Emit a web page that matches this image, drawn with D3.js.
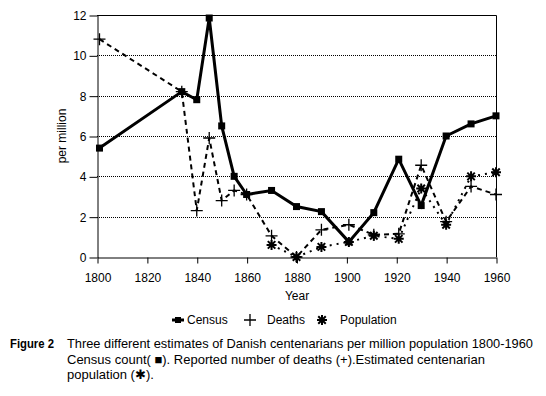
<!DOCTYPE html>
<html>
<head>
<meta charset="utf-8">
<script src="https://cdn.jsdelivr.net/npm/d3@7"></script>
<style>
  body { margin: 0; background: #fff; }
  text { font-family: "Liberation Sans", Arial, sans-serif; font-size: 12px; fill: #000; }
</style>
</head>
<body>
<svg id="chart" width="546" height="396"></svg>
<script>
// values
var censusYears  = [1801, 1834, 1840, 1845, 1850, 1855, 1860, 1870, 1880, 1890, 1901, 1911, 1921, 1930, 1940, 1950, 1960];
var censusValues = [5.4, 8.2, 7.8, 11.85, 6.5, 4.0, 3.1, 3.3, 2.5, 2.25, 0.75, 2.2, 4.85, 2.55, 6.0, 6.6, 7.0];
var deathsYears  = [1801, 1834, 1840, 1845, 1850, 1855, 1860, 1870, 1880, 1890, 1901, 1911, 1921, 1930, 1940, 1950, 1960];
var deathsValues = [10.8, 8.2, 2.3, 5.9, 2.8, 3.3, 3.1, 1.05, 0, 1.35, 1.6, 1.1, 1.15, 4.55, 1.75, 3.5, 3.1];
var popYears     = [1870, 1880, 1890, 1901, 1911, 1921, 1930, 1940, 1950, 1960];
var popValues    = [0.6, 0, 0.5, 0.75, 1.05, 0.9, 3.4, 1.6, 4.0, 4.2];
var xTicks = [1800, 1820, 1840, 1860, 1880, 1900, 1920, 1940, 1960];
var yTicks = [0, 2, 4, 6, 8, 10, 12];

var svg = d3.select("#chart");

var x = d3.scaleLinear().domain([1800, 1960]).range([97, 496]);
var y = d3.scaleLinear().domain([0, 12]).range([257, 15]);

function pts(years, vals) {
    return years.map(function(d, i) { return [d, vals[i]]; });
}
var line = d3.line()
    .x(function(d) { return x(d[0]); })
    .y(function(d) { return y(d[1]); });

// dotted gridlines
svg.append("g").selectAll("line")
    .data(yTicks.filter(function(d) { return d > 0 && d < 12; }))
    .enter().append("line")
    .attr("x1", x(1800)).attr("x2", x(1960))
    .attr("y1", function(d) { return Math.round(y(d)) + 0.5; })
    .attr("y2", function(d) { return Math.round(y(d)) + 0.5; })
    .attr("stroke", "#000")
    .attr("stroke-dasharray", "1,1");

// frame top / right
svg.append("path")
    .attr("d", "M" + x(1800) + "," + (Math.round(y(12)) + 0.5) + "H" + (Math.round(x(1960)) + 0.5) + "V" + y(0))
    .attr("fill", "none").attr("stroke", "#000");

// axes
var yAxis = svg.append("g")
    .attr("transform", "translate(" + (Math.round(x(1800)) + 0.5) + ",0.5)")
    .call(d3.axisLeft(y).tickValues(yTicks).tickSize(8).tickSizeOuter(0).tickPadding(3));
var xAxis = svg.append("g")
    .attr("transform", "translate(0.5," + (Math.round(y(0)) + 0.5) + ")")
    .call(d3.axisBottom(x).tickValues(xTicks).tickFormat(d3.format("d")).tickSize(6).tickSizeOuter(0).tickPadding(10));
svg.selectAll(".domain").attr("stroke", "#000");
svg.selectAll(".tick line").attr("stroke", "#000");
svg.selectAll(".tick text").style("font-size", "12px").attr("fill", "#000");

svg.append("text").attr("x", 297).attr("y", 300).attr("text-anchor", "middle").text("Year");
svg.append("text").attr("transform", "translate(66,136) rotate(-90)")
    .attr("text-anchor", "middle").text("per million");

// marker helpers
function plus(g, cx, cy, s) {
    g.append("path")
        .attr("d", "M" + (cx - s) + "," + cy + "H" + (cx + s) + "M" + cx + "," + (cy - s) + "V" + (cy + s))
        .attr("stroke", "#000").attr("stroke-width", 1.3).attr("fill", "none");
}
function star(g, cx, cy, s) {
    var d = s * 0.75;
    g.append("path")
        .attr("d", "M" + (cx - s) + "," + cy + "H" + (cx + s) +
                   "M" + cx + "," + (cy - s) + "V" + (cy + s) +
                   "M" + (cx - d) + "," + (cy - d) + "L" + (cx + d) + "," + (cy + d) +
                   "M" + (cx - d) + "," + (cy + d) + "L" + (cx + d) + "," + (cy - d))
        .attr("stroke", "#000").attr("stroke-width", 2).attr("fill", "none");
}

var census = pts(censusYears, censusValues);
var deaths = pts(deathsYears, deathsValues);
var pop = pts(popYears, popValues);

// population: dotted
svg.append("path").datum(pop).attr("d", line)
    .attr("fill", "none").attr("stroke", "#000").attr("stroke-width", 2)
    .attr("stroke-dasharray", "2,5");
// deaths: dashed
svg.append("path").datum(deaths).attr("d", line)
    .attr("fill", "none").attr("stroke", "#000").attr("stroke-width", 2)
    .attr("stroke-dasharray", "5,4");
// census: solid thick
svg.append("path").datum(census).attr("d", line)
    .attr("fill", "none").attr("stroke", "#000").attr("stroke-width", 3);

var gm = svg.append("g");
census.forEach(function(d) {
    gm.append("rect").attr("x", x(d[0]) - 3.5).attr("y", y(d[1]) - 3.5)
        .attr("width", 7).attr("height", 7).attr("fill", "#000");
});
deaths.forEach(function(d) { plus(gm, x(d[0]), y(d[1]), 6); });
pop.forEach(function(d) { star(gm, x(d[0]), y(d[1]), 5); });

// legend
var lg = svg.append("g");
lg.append("line").attr("x1", 172).attr("x2", 184).attr("y1", 320).attr("y2", 320)
    .attr("stroke", "#000").attr("stroke-width", 3);
lg.append("rect").attr("x", 175).attr("y", 317).attr("width", 6).attr("height", 6).attr("fill", "#000");
lg.append("text").attr("x", 187).attr("y", 324).text("Census");
plus(lg, 250, 320, 6);
lg.append("text").attr("x", 267).attr("y", 324).text("Deaths");
star(lg, 322, 320, 5);
lg.append("text").attr("x", 340).attr("y", 324).text("Population");

// caption
var cap = svg.append("g");
cap.append("text").attr("x", 10).attr("y", 348).style("font-weight", "bold")
    .attr("textLength", 44).attr("lengthAdjust", "spacingAndGlyphs").text("Figure 2");
cap.append("text").attr("x", 67).attr("y", 348).style("font-size", "13px")
    .attr("textLength", 466).attr("lengthAdjust", "spacingAndGlyphs")
    .text("Three different estimates of Danish centenarians per million population 1800-1960");
cap.append("text").attr("x", 67).attr("y", 364).style("font-size", "13px")
    .text("Census count( \u25A0). Reported number of deaths (+).Estimated centenarian");
cap.append("text").attr("x", 67).attr("y", 379).style("font-size", "13px")
    .text("population (\u2731).");
</script>
</body>
</html>
